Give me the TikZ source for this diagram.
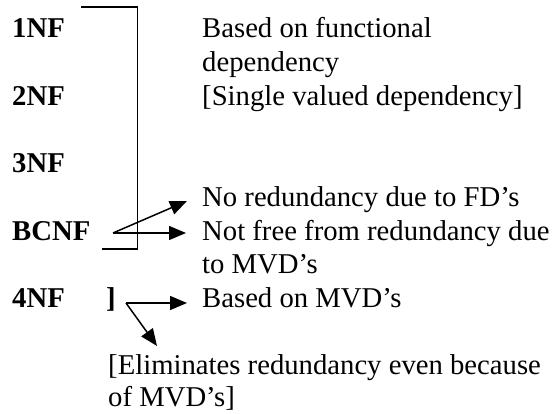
\documentclass[tikz,border=0pt]{standalone}
\usepackage{fontspec}
\setmainfont{Liberation Serif}
\usetikzlibrary{arrows.meta}
\tikzset{
  txt/.style={anchor=base west, inner sep=0pt, font=\fontsize{28.7}{33}\selectfont},
  nf/.style={txt, font=\fontsize{28.7}{33}\selectfont\bfseries},
  line/.style={line width=1.5pt},
  arr/.style={line width=1.5pt, -{Triangle[length=17pt,width=14pt]}}
}
\begin{document}
\begin{tikzpicture}[x=1pt,y=-1pt]
\useasboundingbox (0,0) rectangle (560,414);
% normal form labels
\node[nf] (n1) at (12,38) {1NF};
\node[nf] (n2) at (12,105.4) {2NF};
\node[nf] (n3) at (12,172.8) {3NF};
\node[nf] (n4) at (12,240.2) {BCNF};
\node[nf] (n5) at (12,307.6) {4NF};
\node[nf] (br) at (106,307.6) {]};
% descriptions
\node[txt] (d1) at (202,38) {Based on functional};
\node[txt] (d2) at (202,71.7) {dependency};
\node[txt] (d3) at (202,105.4) {[Single valued dependency]};
\node[txt] (d4) at (202,206.5) {No redundancy due to FD’s};
\node[txt] (d5) at (202,240.2) {Not free from redundancy due};
\node[txt] (d6) at (202,273.9) {to MVD’s};
\node[txt] (d7) at (202,307.6) {Based on MVD’s};
\node[txt] (d8) at (108,374.5) {[Eliminates redundancy even because};
\node[txt] (d9) at (108,406.5) {of MVD’s]};
% bracket enclosing 1NF to BCNF
\coordinate (bt) at (81,7);
\coordinate (bb) at (102,249);
\draw[line] (bt) -| (137.5,249) -- (bb);
% arrows from BCNF
\coordinate (o1) at (113,233);
\coordinate (t1) at (187,201);
\coordinate (t2) at (186,233);
\draw[arr] (o1) -- (t1);
\draw[arr] (o1) -- (t2);
% arrows from 4NF
\coordinate (o2) at (126,303);
\coordinate (t3) at (187,303);
\coordinate (t4) at (157,346);
\draw[arr] (o2) -- (t3);
\draw[arr] (o2) -- (t4);
\end{tikzpicture}
\end{document}
